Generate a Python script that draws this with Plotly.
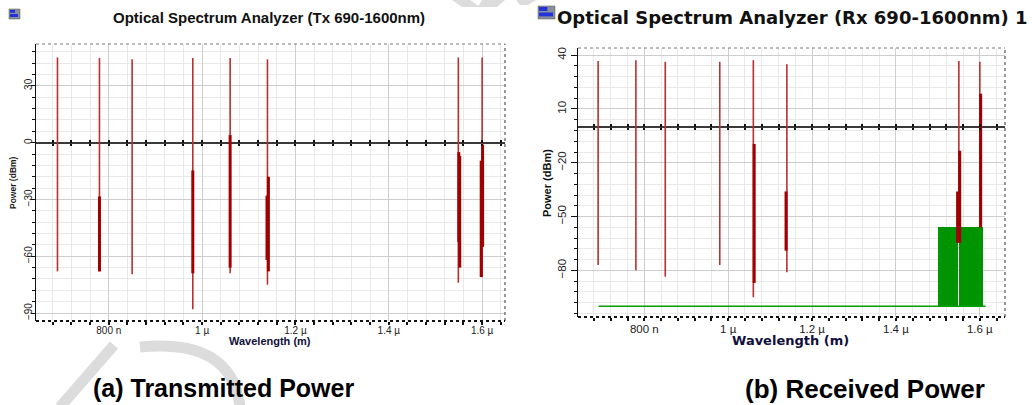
import plotly.graph_objects as go

W, H = 1032, 405

# ---------------- data ----------------
tick_vals_nm = [800, 1000, 1200, 1400, 1600]
tick_text = ["800 n", "1 µ", "1.2 µ", "1.4 µ", "1.6 µ"]

# Transmitted spectrum (Tx) : main lines
tx_wl = [690, 780, 850, 980, 1060, 1140, 1549, 1600]
tx_peak = [45.0, 44.7, 44.0, 44.7, 44.7, 44.0, 45.0, 45.0]
tx_floor = [-68.0, -68.0, -69.5, -88.0, -69.0, -75.0, -74.0, -71.0]
# Tx side components (thick dark parts)
tx_side_wl = [780, 980, 1060, 1139, 1142, 1550, 1552, 1598, 1601]
tx_side_top = [-28.4, -14.7, 4.0, -28.0, -18.0, -5.0, -7.0, -9.5, -1.0]
tx_side_bot = [-68.0, -69.0, -66.0, -62.0, -68.0, -52.5, -66.0, -71.0, -55.0]

# Received spectrum (Rx) : main lines
rx_wl = [690, 780, 850, 980, 1060, 1140, 1550, 1600]
rx_peak = [36.7, 37.2, 36.3, 36.3, 37.2, 35.0, 36.7, 36.3]
rx_floor = [-77.0, -80.0, -83.5, -77.0, -95.0, -81.0, -64.6, -56.0]
# Rx side components (thick dark parts)
rx_side_wl = [1062, 1138, 1547, 1552, 1602]
rx_side_top = [-9.5, -36.0, -36.0, -13.3, 18.5]
rx_side_bot = [-87.0, -69.0, -64.6, -64.6, -56.0]

# Rx noise (green)
rx_noise_lo = [1500.7, 1551.4]
rx_noise_hi = [1548.3, 1608.0]
rx_noise_level = -55.8
rx_noise_floor = -100.0
rx_noise_span = [691, 1614]


def segs(wl, lo, hi):
    xs, ys = [], []
    for w, a, b in zip(wl, lo, hi):
        xs += [w, w, None]
        ys += [a, b, None]
    return xs, ys


THIN = "#b83030"
THICK = "#a00000"
GREEN = "#009400"

fig = go.Figure()

# ---- Tx ----
x, y = segs(tx_wl, tx_floor, tx_peak)
fig.add_trace(go.Scatter(x=x, y=y, mode="lines", line=dict(color=THIN, width=1.6),
                         xaxis="x", yaxis="y", showlegend=False, hoverinfo="skip"))
x, y = segs(tx_side_wl, tx_side_bot, tx_side_top)
fig.add_trace(go.Scatter(x=x, y=y, mode="lines", line=dict(color=THICK, width=3),
                         xaxis="x", yaxis="y", showlegend=False, hoverinfo="skip"))

# ---- Rx ----
fig.add_trace(go.Scatter(x=rx_noise_span, y=[rx_noise_floor, rx_noise_floor], mode="lines",
                         line=dict(color="#00a000", width=1.5),
                         xaxis="x2", yaxis="y2", showlegend=False, hoverinfo="skip"))
fig.add_trace(go.Bar(x=[(a + b) / 2 for a, b in zip(rx_noise_lo, rx_noise_hi)],
                     y=[rx_noise_level - rx_noise_floor] * len(rx_noise_lo),
                     base=rx_noise_floor,
                     width=[b - a for a, b in zip(rx_noise_lo, rx_noise_hi)],
                     marker=dict(color=GREEN, line=dict(width=0)),
                     xaxis="x2", yaxis="y2", showlegend=False, hoverinfo="skip"))
x, y = segs(rx_wl, rx_floor, rx_peak)
fig.add_trace(go.Scatter(x=x, y=y, mode="lines", line=dict(color=THIN, width=1.6),
                         xaxis="x2", yaxis="y2", showlegend=False, hoverinfo="skip"))
x, y = segs(rx_side_wl, rx_side_bot, rx_side_top)
fig.add_trace(go.Scatter(x=x, y=y, mode="lines", line=dict(color=THICK, width=3),
                         xaxis="x2", yaxis="y2", showlegend=False, hoverinfo="skip"))

# empty traces on tick-overlay axes
for xa, ya in [("x3", "y"), ("x4", "y"), ("x5", "y2"), ("x6", "y2")]:
    fig.add_trace(go.Scatter(x=[], y=[], xaxis=xa, yaxis=ya, showlegend=False))


def PX(px):
    return px / W


def PY(py):
    return 1 - py / H


# domains
L_x = [PX(36), PX(505)]
L_y = [PY(321), PY(44)]
R_x = [PX(578), PX(1005)]
R_y = [PY(317), PY(48)]
L_xr = [644, 1649]
L_yr = [-94.2, 52.1]
R_xr = [642, 1660]
R_yr = [-106.0, 44.0]

GRID_MAJ = "#cdcdcd"
GRID_MIN = "#e9e9e9"
FONT = "Liberation Sans, Arial, sans-serif"


def xax(domain, rng, anchor, fs, so):
    return dict(domain=domain, range=rng, anchor=anchor, tickmode="array",
                tickvals=tick_vals_nm, ticktext=tick_text,
                ticks="outside", ticklen=3, tickwidth=1.5, tickcolor="#111",
                ticklabelstandoff=so,
                showgrid=True, gridcolor=GRID_MAJ, gridwidth=1,
                minor=dict(tick0=0, dtick=40, ticks="outside", ticklen=3, tickwidth=1.5,
                           tickcolor="#111", showgrid=True, gridcolor=GRID_MIN, gridwidth=1),
                showline=False, zeroline=False,
                tickfont=dict(family=FONT, size=fs, color="#222"))


def yax(domain, rng, anchor, t0, fs, tl, so):
    return dict(domain=domain, range=rng, anchor=anchor, tick0=t0, dtick=30,
                tickmode="linear", tickangle=-90,
                ticks="outside", ticklen=tl, tickwidth=1.2, tickcolor="#111",
                ticklabelstandoff=so,
                showgrid=True, gridcolor=GRID_MAJ, gridwidth=1,
                minor=dict(tick0=t0, dtick=6, ticks="outside", ticklen=3, tickwidth=1,
                           tickcolor="#111", showgrid=True, gridcolor=GRID_MIN, gridwidth=1),
                showline=True, linecolor="#111", linewidth=1.2,
                zeroline=True, zerolinecolor="#3a3a3a", zerolinewidth=1.6,
                tickfont=dict(family=FONT, size=fs, color="#222"))


def zero_pos(dom, rng):
    return dom[0] + (0 - rng[0]) / (rng[1] - rng[0]) * (dom[1] - dom[0])


def tick_overlay(base, dom, rng, pos, side):
    return dict(overlaying=base, anchor="free", position=pos, domain=dom, range=rng,
                tickmode="linear", tick0=0, dtick=40, ticks=side, ticklen=2.5,
                tickwidth=2, tickcolor="#111", showticklabels=False,
                showgrid=False, zeroline=False, showline=False)


zl = zero_pos(L_y, L_yr)
zr = zero_pos(R_y, R_yr)

fig.update_layout(
    width=W, height=H, margin=dict(l=0, r=0, t=0, b=0),
    paper_bgcolor="white", plot_bgcolor="white",
    showlegend=False, bargap=0,
    xaxis=xax(L_x, L_xr, "y", 10, -3),
    yaxis=yax(L_y, L_yr, "x", 0, 10, 4, -5),
    xaxis2=xax(R_x, R_xr, "y2", 11.5, -2),
    yaxis2=yax(R_y, R_yr, "x2", 10, 11.5, 6, 0),
    xaxis3=tick_overlay("x", L_x, L_xr, zl, "outside"),
    xaxis4=tick_overlay("x", L_x, L_xr, zl, "inside"),
    xaxis5=tick_overlay("x2", R_x, R_xr, zr, "outside"),
    xaxis6=tick_overlay("x2", R_x, R_xr, zr, "inside"),
)

shapes = []
for xr, yr in [("x domain", "y domain"), ("x2 domain", "y2 domain")]:
    shapes.append(dict(type="line", xref=xr, yref=yr, x0=0, x1=1, y0=1, y1=1,
                       line=dict(color="#777", width=1, dash="dot")))
    shapes.append(dict(type="line", xref=xr, yref=yr, x0=1, x1=1, y0=0, y1=1,
                       line=dict(color="#777", width=1.5, dash="dot")))
    shapes.append(dict(type="line", xref=xr, yref=yr, x0=0, x1=1, y0=0, y1=0,
                       line=dict(color="#111", width=2, dash="dot")))

# window icons
def icon(x0, y0, w, h):
    out = [dict(type="rect", xref="paper", yref="paper", x0=PX(x0), x1=PX(x0 + w),
                y0=PY(y0 + h), y1=PY(y0), fillcolor="#8a8f9a", line=dict(width=0.5, color="#555"))]
    out.append(dict(type="rect", xref="paper", yref="paper", x0=PX(x0 + 1), x1=PX(x0 + w * 0.55),
                    y0=PY(y0 + h * 0.38), y1=PY(y0 + 1), fillcolor="#2233dd", line=dict(width=0)))
    out.append(dict(type="rect", xref="paper", yref="paper", x0=PX(x0 + 1), x1=PX(x0 + w - 2),
                    y0=PY(y0 + h * 0.8), y1=PY(y0 + h * 0.5), fillcolor="#2233dd", line=dict(width=0)))
    return out

shapes += icon(9, 9, 11, 10)
shapes += icon(538, 6, 17, 13)

# faint watermark strokes
WM = "rgba(205,205,205,0.7)"
shapes.append(dict(type="line", xref="paper", yref="paper", x0=PX(114), y0=PY(345),
                   x1=PX(60), y1=PY(407), line=dict(color=WM, width=11)))
shapes.append(dict(type="path", xref="paper", yref="paper",
                   path=f"M {PX(140)} {PY(347)} Q {PX(232)} {PY(338)} {PX(240)} {PY(407)}",
                   line=dict(color=WM, width=11)))
shapes.append(dict(type="path", xref="paper", yref="paper",
                   path=f"M {PX(452)} {PY(0)} L {PX(470)} {PY(0)} L {PX(480)} {PY(7)} L {PX(462)} {PY(7)} Z",
                   fillcolor=WM, line=dict(width=0)))
shapes.append(dict(type="path", xref="paper", yref="paper",
                   path=f"M {PX(482)} {PY(0)} L {PX(505)} {PY(0)} L {PX(497)} {PY(7)} L {PX(478)} {PY(7)} Z",
                   fillcolor=WM, line=dict(width=0)))
shapes.append(dict(type="path", xref="paper", yref="paper",
                   path=f"M {PX(516)} {PY(0)} L {PX(536)} {PY(0)} L {PX(528)} {PY(5)} L {PX(520)} {PY(5)} Z",
                   fillcolor=WM, line=dict(width=0)))
fig.update_layout(shapes=shapes)

ann = []
def A(text, x, y, size, family=FONT, color="#111", angle=0, xanchor="center"):
    ann.append(dict(text=text, x=PX(x), y=PY(y), xref="paper", yref="paper",
                    showarrow=False, xanchor=xanchor, yanchor="middle", textangle=angle,
                    font=dict(family=family, size=size, color=color)))

A("<b>Optical Spectrum Analyzer (Tx 690-1600nm)</b>", 269, 18, 15)
A("<b>Optical Spectrum Analyzer (Rx 690-1600nm) 1</b>", 555, 18, 18,
  family="DejaVu Sans, sans-serif", xanchor="left")
A("<b>Power (dBm)</b>", 13, 183, 8.5, color="#1a1a1a", angle=-90)
A("<b>Power (dBm)</b>", 547, 183, 11, family="Liberation Sans Narrow, Liberation Sans, Arial",
  color="#111", angle=-90)
A("<b>Wavelength (m)</b>", 270, 341, 11, color="#10103a")
A("<b>Wavelength (m)</b>", 790, 340, 13, family="DejaVu Sans, sans-serif", color="#10103a")
A("<b>(a) Transmitted Power</b>", 223, 388, 25, color="#000")
A("<b>(b) Received Power</b>", 865, 389, 26, color="#000")
fig.update_layout(annotations=ann)

fig.write_html("out.html")
